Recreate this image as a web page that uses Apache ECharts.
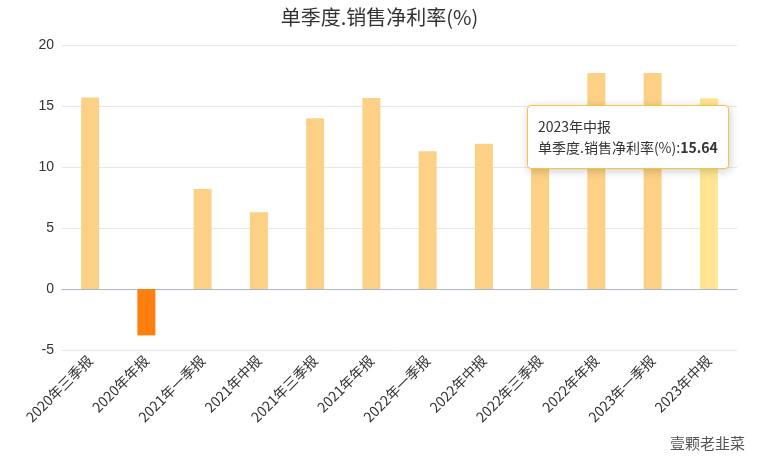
<!DOCTYPE html>
<html>
<head>
<meta charset="utf-8">
<script src="https://cdn.jsdelivr.net/npm/echarts@6/dist/echarts.min.js"></script>
<style>html,body{margin:0;padding:0;background:#fff}#main{width:759px;height:465px}</style>
</head>
<body>
<div id="main"></div>
<script>
// 报告期
var categories=['2020年三季报','2020年年报','2021年一季报','2021年中报','2021年三季报','2021年年报','2022年一季报','2022年中报','2022年三季报','2022年年报','2023年一季报','2023年中报'];
// 单季度销售净利率
var values=[15.7,-3.8,8.2,6.3,14.0,15.65,11.3,11.9,12.4,17.7,17.7,15.64];
var seriesName='单季度.销售净利率(%)';

var chart=echarts.init(document.getElementById('main'));
chart.setOption({
	animation:false,
	title:{text:seriesName,left:'center',top:2,textStyle:{fontSize:20,fontWeight:'normal',color:'#333',fontFamily:'Noto Sans CJK SC'}},
	tooltip:{
		trigger:'axis',alwaysShowContent:true,
		axisPointer:{type:'none'},
		backgroundColor:'#fff',borderColor:'#f5c542',borderWidth:1,
		textStyle:{color:'#333',fontSize:14,fontFamily:'Noto Sans CJK SC'},
		formatter:function(p){return p[0].name+'<br/>'+seriesName+':<b>'+p[0].value+'</b>';},
		position:function(){return [527,105];}
	},
	grid:{left:62,right:22,top:45,bottom:115},
	xAxis:{
		type:'category',data:categories,
		axisLine:{lineStyle:{color:'#aab4cc'}},
		axisTick:{length:6,lineStyle:{color:'#aab4cc'}},
		axisLabel:{rotate:45,interval:0,color:'#333',fontSize:14,fontFamily:'Noto Sans CJK SC'}
	},
	yAxis:{
		type:'value',min:-5,max:20,interval:5,
		axisLine:{show:false},axisTick:{show:false},
		axisLabel:{color:'#333',fontSize:14},
		splitLine:{lineStyle:{color:'#e6e6e6'}}
	},
	series:[{
		name:seriesName,type:'bar',barWidth:18,
		data:values.map(function(v){
			return {value:v,itemStyle:{color:v<0?'#ff7f0e':'#fdd185'}};
		})
	}],
	graphic:[{type:'text',right:14,bottom:14,style:{text:'壹颗老韭菜',fill:'#555',font:'15px "Noto Sans CJK SC"'}}]
});
chart.dispatchAction({type:'showTip',seriesIndex:0,dataIndex:11});
</script>
</body>
</html>
